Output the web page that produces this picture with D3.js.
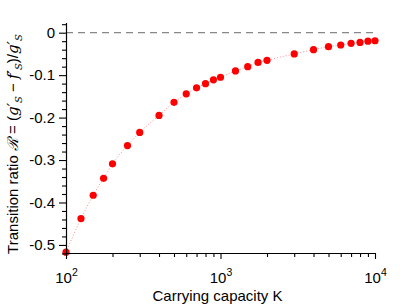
<!DOCTYPE html>
<html>
<head>
<meta charset="utf-8">
<script src="https://cdn.jsdelivr.net/npm/d3@7"></script>
<style>
  body { margin: 0; background: #fff; }
  text { font-family: "Liberation Sans", Arial, sans-serif; fill: #000; }
</style>
</head>
<body>
<script>
// carrying capacity K and transition ratio R
const capacity = [100, 125, 150, 175, 200, 250, 300, 400, 500, 600, 700, 800, 900, 1000,
  1250, 1500, 1750, 2000, 3000, 4000, 5000, 6000, 7000, 8000, 9000, 10000];
const ratio = [-0.517, -0.438, -0.383, -0.343, -0.309, -0.266, -0.235, -0.195, -0.164, -0.144,
  -0.130, -0.120, -0.111, -0.105, -0.090, -0.080, -0.070, -0.065, -0.050, -0.040,
  -0.033, -0.029, -0.025, -0.023, -0.020, -0.019];
const yTicks = [0, -0.1, -0.2, -0.3, -0.4, -0.5];
const xTicks = [100, 1000, 10000];

const w = 415, h = 306;
const padL = 66, padR = 375, padT = 22.5, padB = 253;
const fs = 15;

const svg = d3.select("body").append("svg")
  .attr("width", w).attr("height", h);

const x = d3.scaleLog().domain([100, 10000]).range([padL, padR]);
const y = d3.scaleLinear().domain([-0.519, 0.024]).range([padB, padT]);

// zero reference line
svg.append("line")
  .attr("x1", x(100)).attr("x2", x(10000))
  .attr("y1", y(0)).attr("y2", y(0))
  .attr("stroke", "#888").attr("stroke-width", 1.3)
  .attr("stroke-dasharray", "7,5");

// dotted connecting line
const pts = capacity.map((k, i) => [k, ratio[i]]);
svg.append("path")
  .datum(pts)
  .attr("d", d3.line().x(d => x(d[0])).y(d => y(d[1])).curve(d3.curveMonotoneX))
  .attr("fill", "none")
  .attr("stroke", "#ff8c8c")
  .attr("stroke-width", 1)
  .attr("stroke-dasharray", "1,2");

// points
svg.selectAll("circle")
  .data(pts)
  .enter()
  .append("circle")
  .attr("cx", d => x(d[0]))
  .attr("cy", d => y(d[1]))
  .attr("r", 3.6)
  .attr("fill", "#ff0000");

// y axis minor ticks
const yMinor = d3.range(-26, 2).map(i => i * 0.02).filter(v => Math.abs(Math.round(v * 10) - v * 10) > 1e-6);
const yAxisG = svg.append("g").attr("transform", "translate(" + padL + ",0)");
yAxisG.call(d3.axisLeft(y).tickValues(yMinor).tickSize(4).tickFormat(""));
yAxisG.call(g => g.select(".domain").remove());
const yMajor = svg.append("g").attr("transform", "translate(" + padL + ",0)")
  .call(d3.axisLeft(y).tickValues(yTicks).tickSize(7).tickSizeOuter(0)
    .tickFormat(d => d === 0 ? "0" : "-" + d3.format(".1f")(-d)));
yMajor.selectAll("text").attr("font-size", fs).attr("x", -11);

// x axis minor ticks
const xMinor = [];
[100, 1000].forEach(b => { for (let m = 2; m <= 9; m++) xMinor.push(b * m); });
const xAxisG = svg.append("g").attr("transform", "translate(0," + padB + ")");
xAxisG.call(d3.axisBottom(x).tickValues(xMinor).tickSize(4).tickFormat(""));
xAxisG.call(g => g.select(".domain").remove());
const xMajor = svg.append("g").attr("transform", "translate(0," + padB + ")")
  .call(d3.axisBottom(x).tickValues(xTicks).tickSize(6).tickSizeOuter(0).tickFormat(""));

svg.selectAll(".domain").attr("stroke-width", 1.2);
svg.selectAll(".tick line").attr("stroke-width", 1.1);

// x tick labels with superscript exponents
xTicks.forEach(t => {
  const tx = svg.append("text")
    .attr("x", x(t) + 0.5).attr("y", 283)
    .attr("text-anchor", "middle")
    .attr("font-size", fs);
  tx.append("tspan").text("10");
  tx.append("tspan").attr("dy", -7.5).attr("font-size", 10.5).text(Math.round(Math.log10(t)));
});

// axis titles
svg.append("text")
  .attr("x", 217.5).attr("y", 301)
  .attr("text-anchor", "middle")
  .attr("font-size", fs)
  .text("Carrying capacity K");

const it = sel => sel.attr("font-family", "DejaVu Serif").attr("font-style", "italic");
const yl = svg.append("text")
  .attr("transform", "translate(18,144) rotate(-90)")
  .attr("text-anchor", "middle")
  .attr("font-size", fs);
yl.append("tspan").text("Transition ratio ");
yl.append("tspan").call(it).text("\u211B");
yl.append("tspan").text(" = (");
yl.append("tspan").call(it).text("g\u2032");
yl.append("tspan").attr("dy", 4).attr("font-size", 10).call(it).text("S");
yl.append("tspan").attr("dy", -4).text(" \u2212 ");
yl.append("tspan").call(it).text("f\u2032");
yl.append("tspan").attr("dy", 4).attr("font-size", 10).call(it).text("S");
yl.append("tspan").attr("dy", -4).text(")/");
yl.append("tspan").call(it).text("g\u2032");
yl.append("tspan").attr("dy", 4).attr("font-size", 10).call(it).text("S");
</script>
</body>
</html>
